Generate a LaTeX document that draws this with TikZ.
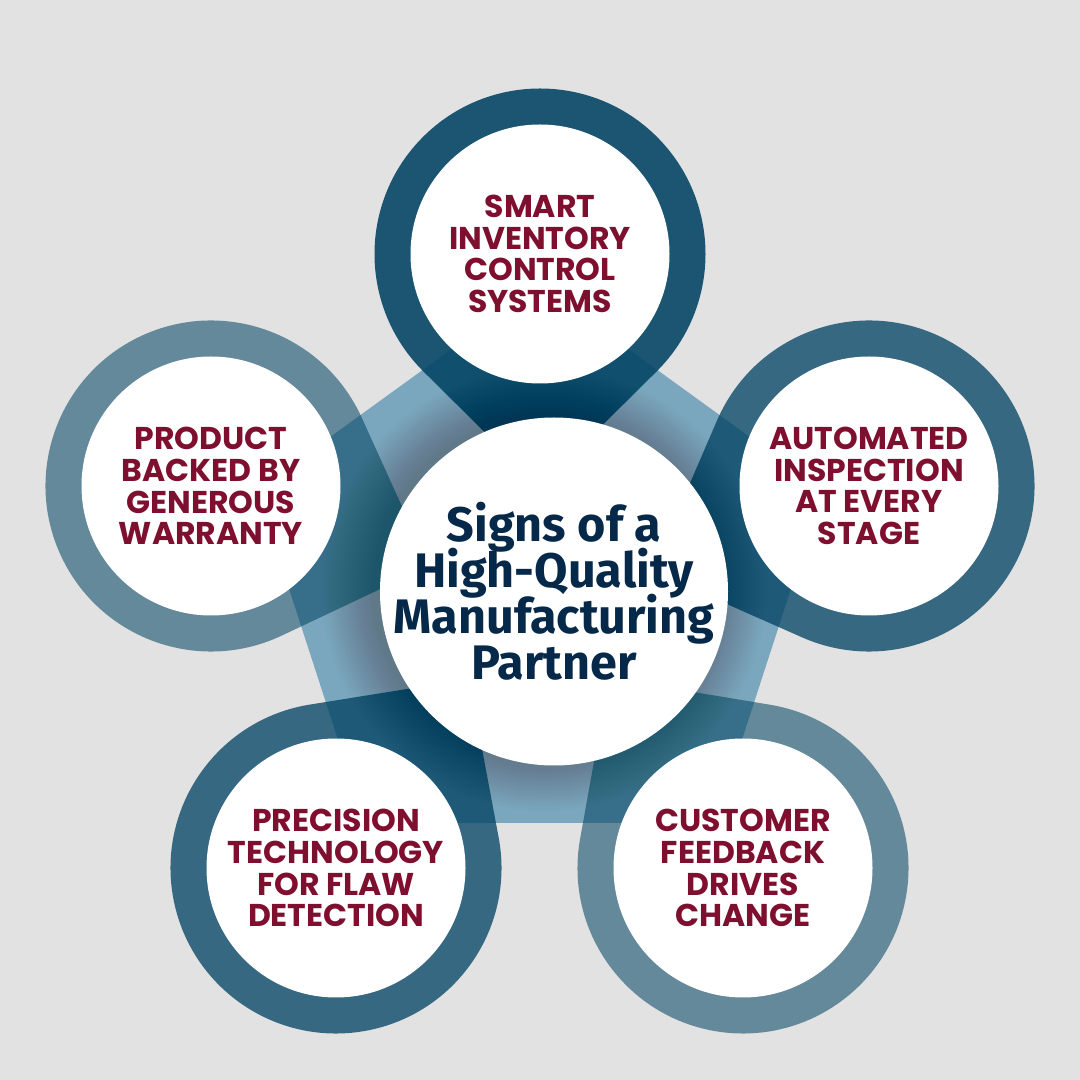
\documentclass[tikz,border=0pt]{standalone}
\usepackage{fontspec}
\usepackage{xcolor}
\usetikzlibrary{calc}
\newfontfamily\spotfont{Poppins}
\newfontfamily\hubfont{Fira Sans}
\newcommand{\hubtype}{\hubfont\bfseries\fontsize{48.5}{46}\selectfont\setlength{\lineskiplimit}{-20pt}}
\definecolor{pagegray}{HTML}{E2E2E2}
\definecolor{bandblue}{HTML}{7AA7BD}
\definecolor{pinblue}{HTML}{034464}
\definecolor{spotred}{HTML}{7E0F2F}
\definecolor{hubnavy}{HTML}{06294A}
\tikzset{
  spot/.style={circle, fill=white, minimum size=259pt, inner sep=-10pt, align=center, text=spotred, font=\spotfont\bfseries\fontsize{31.5}{31.8}\selectfont},
  hub/.style={circle, fill=white, minimum size=348pt, inner sep=-30pt, align=center, text=hubnavy, font=\hubtype},
  pin/.style={fill=pinblue}
}

\begin{document}
\begin{tikzpicture}[x=1pt,y=1pt]
   \fill[pagegray] (0,0) rectangle (1080,1080);
   \useasboundingbox (0,0) rectangle (1080,1080);
   % ring centres and the tips of the pins
   \coordinate (smartc) at (540,826);
   \coordinate (inspectc) at (869,594);
   \coordinate (feedbackc) at (743,212);
   \coordinate (flawc) at (336,212);
   \coordinate (warrantyc) at (211,594);
   \coordinate (smarttip) at (540,593);
   \coordinate (inspecttip) at (652,509);
   \coordinate (feedbacktip) at (609,402);
   \coordinate (flawtip) at (469,401);
   \coordinate (warrantytip) at (429,514);
   % pentagon band
   \fill[bandblue] (540,795) -- (823,590) -- (715,257) -- (365,257) -- (257,590) -- cycle;
   % pins
   \fill[pin, fill opacity=0.885] (smarttip) -- ($(smartc)+(-45:165.5pt)$) arc[start angle=-45, end angle=225, radius=165.5pt] -- cycle;
   \fill[pin, fill opacity=0.77] (inspecttip) -- ($(inspectc)+(246.4:165.5pt)$) arc[start angle=246.4, end angle=516.4, radius=165.5pt] -- cycle;
   \fill[pin, fill opacity=0.56] (feedbacktip) -- ($(feedbackc)+(170.2:165.5pt)$) arc[start angle=170.2, end angle=440.2, radius=165.5pt] -- cycle;
   \fill[pin, fill opacity=0.77] (flawtip) -- ($(flawc)+(99.9:165.5pt)$) arc[start angle=99.9, end angle=369.9, radius=165.5pt] -- cycle;
   \fill[pin, fill opacity=0.56] (warrantytip) -- ($(warrantyc)+(24.8:165.5pt)$) arc[start angle=24.8, end angle=294.8, radius=165.5pt] -- cycle;
   % soft shadow round the middle
   \foreach \r in {172,174,...,222}
     \fill[black, fill opacity=0.008] (544,491) circle (\r pt);
   % circles
   \node[spot] (smart) at (smartc) {SMART\\INVENTORY\\CONTROL\\SYSTEMS};
   \node[spot] (inspect) at (inspectc) {AUTOMATED\\INSPECTION\\AT EVERY\\STAGE};
   \node[spot] (feedback) at (feedbackc) {CUSTOMER\\FEEDBACK\\DRIVES\\CHANGE};
   \node[spot] (flaw) at (flawc) {PRECISION\\TECHNOLOGY\\FOR FLAW\\DETECTION};
   \node[spot] (warranty) at (warrantyc) {PRODUCT\\BACKED BY\\GENEROUS\\WARRANTY};
   \node[hub] (hub) at (554,488.5) {Signs of a\\High-Quality\\Manufacturing\\Partner};
\end{tikzpicture}
\end{document}
